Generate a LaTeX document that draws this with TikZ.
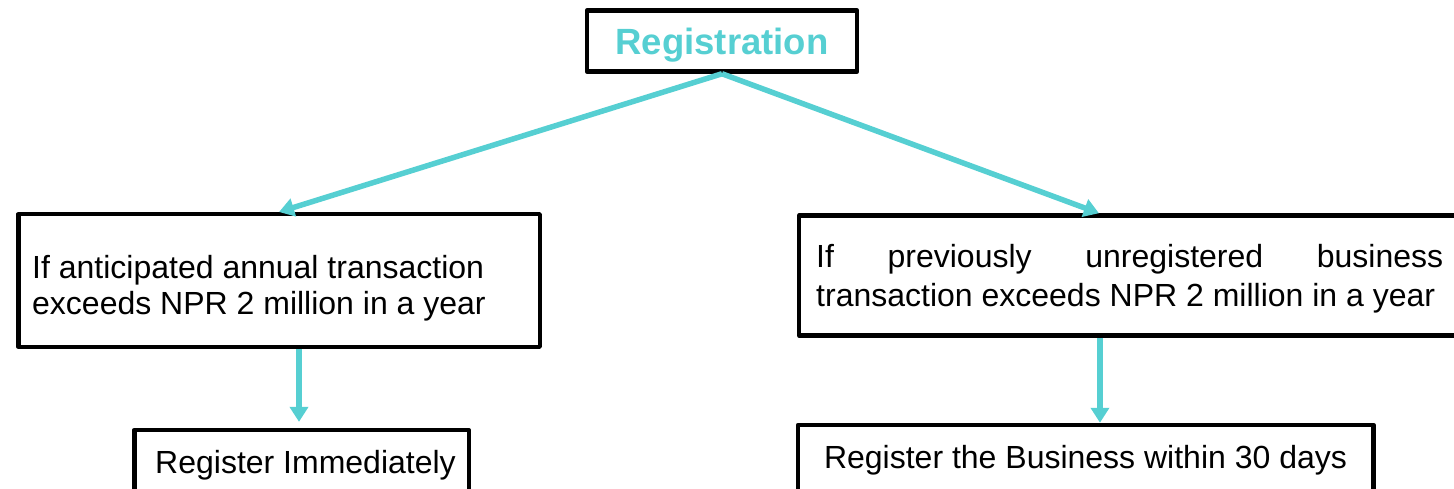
\documentclass[tikz,border=0pt]{standalone}
\usepackage{fontspec}
\setmainfont{Liberation Sans}
\usetikzlibrary{arrows.meta,calc}
\definecolor{regteal}{RGB}{86,207,210}

\begin{document}
\begin{tikzpicture}[x=1pt,y=-1pt,
  box/.style={draw=black, line width=4.5pt, rectangle, inner sep=0pt, line join=round},
  link/.style={draw=regteal, line width=5.5pt, -{Triangle[length=15pt,width=18pt]}},
  txt/.style={inner sep=0pt, font=\fontsize{32}{36.8}\selectfont}
]
\useasboundingbox (0,0) rectangle (1454,489);
\clip (0,0) rectangle (1454,489);

% frames
\node[box, minimum width=270pt, minimum height=61pt] (reg) at (722,41) {};
\node[box, minimum width=521.5pt, minimum height=132.5pt] (lbox) at (279,280.5) {};
\node[box, minimum width=680.75pt, minimum height=120pt] (rbox) at (1139.6,275.5) {};
\node[box, minimum width=334.5pt, minimum height=79.75pt] (ibox) at (301.5,470) {};
\node[box, minimum width=575.5pt, minimum height=85pt] (dbox) at (1085.75,467.5) {};

% texts
\node[txt, font=\bfseries\fontsize{36.5}{40}\selectfont, text=regteal, anchor=base] (regtext) at (722,55) {Registration};
\node[txt, anchor=base west] (ltext1) at (32,278) {If anticipated annual transaction};
\node[txt, anchor=base west] (ltext2) at (32,314) {exceeds NPR 2 million in a year};
\node[txt, anchor=base west] (rtext1) at (816,268) {\makebox[627pt][s]{If previously unregistered business}};
\node[txt, anchor=base west] (rtext2) at (816,306) {transaction exceeds NPR 2 million in a year};
\node[txt, anchor=base] (itext) at (305.5,473) {Register Immediately};
\node[txt, anchor=base] (dtext) at (1085.5,468) {Register the Business within 30 days};

% connectors
\coordinate (rtop) at ($(rbox.north west)+(302,0)$);
\coordinate (lfoot) at ($(lbox.south west)+(283,0)$);
\coordinate (rfoot) at ($(rbox.south west)+(303,0)$);
\draw[link] (reg.south) -- (lbox.north);
\draw[link] (reg.south) -- (rtop);
\draw[link, shorten >=6pt] (lfoot) -- (lfoot |- ibox.north);
\draw[link] (rfoot) -- (rfoot |- dbox.north);
\end{tikzpicture}
\end{document}
